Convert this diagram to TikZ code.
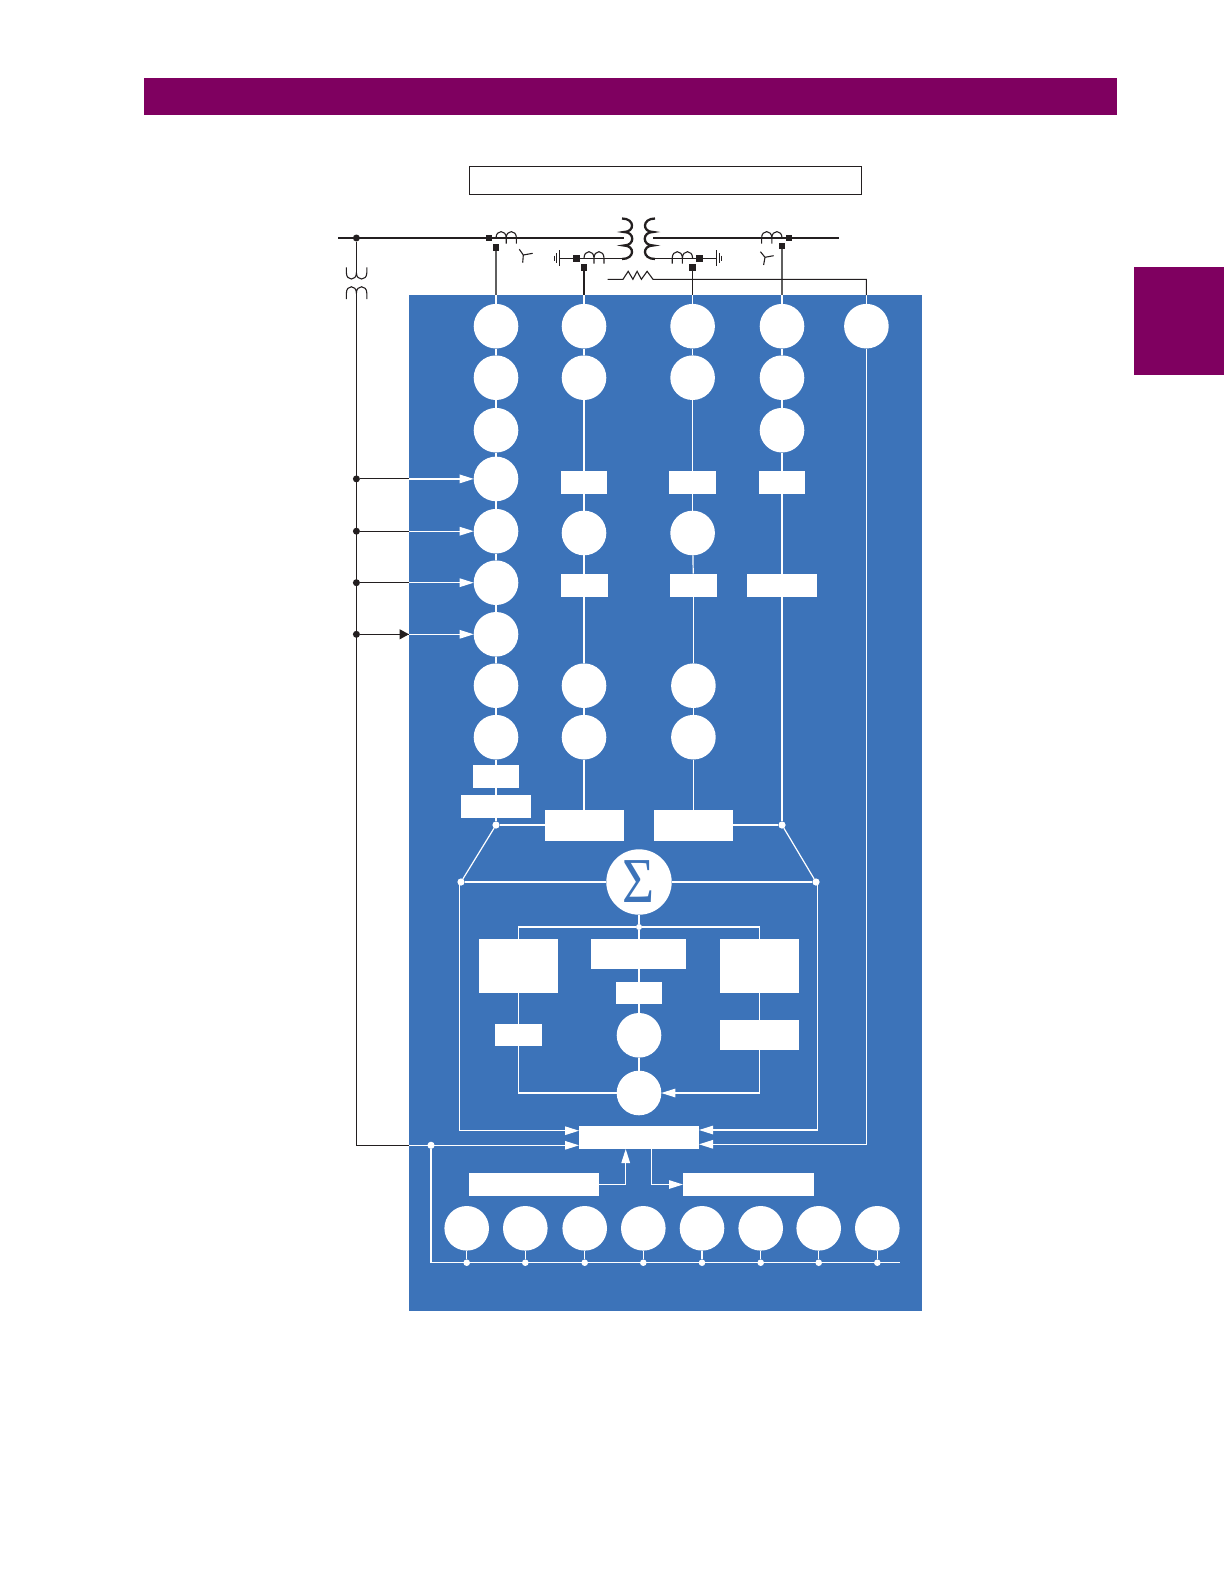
\documentclass[tikz,border=0pt]{standalone}
\usepackage{fontspec}
\newfontfamily\sigfont{Liberation Serif}
\usetikzlibrary{arrows.meta,shapes.geometric}
\definecolor{gepurple}{RGB}{127,0,96}
\definecolor{geblue}{RGB}{60,115,185}
\definecolor{inkblack}{RGB}{35,31,32}
\definecolor{inkgray}{RGB}{95,95,95}
\tikzset{
  wc/.style={circle,fill=white,draw=none,inner sep=0pt,outer sep=0pt,minimum size=44.6pt},
  wb/.style={rectangle,fill=white,draw=none,inner sep=0pt,outer sep=0pt},
  wd/.style={circle,fill=white,draw=none,inner sep=0pt,outer sep=0pt,minimum size=7.2pt},
  bd/.style={circle,fill=inkblack,draw=none,inner sep=0pt,outer sep=0pt,minimum size=7pt},
  sq/.style={rectangle,fill=inkblack,draw=none,inner sep=0pt,outer sep=0pt,minimum size=6.8pt},
  wl/.style={draw=white,line width=1.2pt},
  wa/.style={wl,-{Triangle[length=14pt,width=8.5pt,fill=white]}},
  kl/.style={draw=inkblack,line width=1.1pt},
  kt/.style={draw=inkblack,line width=1.7pt},
  kc/.style={draw=inkblack,line width=1.1pt},
  kg/.style={draw=inkgray,line width=1.4pt},
}
\begin{document}
\begin{tikzpicture}[x=1pt,y=-1pt]
\useasboundingbox (0,0) rectangle (1224,1584);
% page furniture
\fill[gepurple] (144,78) rectangle (1117,115);
\fill[gepurple] (1134,267) rectangle (1224,374.7);
\fill[geblue] (409,295) rectangle (922,1311);
\node[rectangle,draw=inkblack,line width=1pt,fill=white,inner sep=0pt,minimum width=391.5pt,minimum height=28pt] (title) at (665.7,180.3) {};
\draw[inkblack,line width=1.8pt] (title.north west) -- (title.south west);

% column 1
\foreach \n/\y in {a1/326.2,a2/377.7,a3/430.2,a4/478.9,a5/531.2,a6/582.7,a7/634.3,a8/685.7,a9/737.2}
  \node[wc] (\n) at (496,\y) {};
\node[wb,minimum width=46.4pt,minimum height=23.2pt] (b11) at (496,776.3) {};
\node[wb,minimum width=70pt,minimum height=22.7pt] (b12) at (496,806.3) {};
\node[wd] (j1) at (496,825) {};
% column 2
\foreach \n/\y in {c1/326.2,c2/377.7,c3/533,c4/685.7,c5/737.2}
  \node[wc] (\n) at (584,\y) {};
\node[wb,minimum width=46.5pt,minimum height=23.2pt] (b21) at (584,482.2) {};
\node[wb,minimum width=47pt,minimum height=23.2pt] (b22) at (584,585.2) {};
\node[wb,minimum width=79pt,minimum height=31pt] (b2) at (584.5,825.5) {};
% column 3
\foreach \n/\y in {d1/326.2,d2/377.7,d3/533}
  \node[wc] (\n) at (692.6,\y) {};
\foreach \n/\y in {d4/685.7,d5/737.2}
  \node[wc] (\n) at (693.4,\y) {};
\node[wb,minimum width=47pt,minimum height=23.2pt] (b31) at (692.6,482.2) {};
\node[wb,minimum width=47pt,minimum height=23.2pt] (b32) at (693.4,585.2) {};
\node[wb,minimum width=79pt,minimum height=31pt] (b3) at (693.2,825.5) {};
% column 4
\foreach \n/\y in {f1/326.2,f2/377.7,f3/430.2}
  \node[wc] (\n) at (782,\y) {};
\node[wb,minimum width=46.5pt,minimum height=23.2pt] (b41) at (782,482.2) {};
\node[wb,minimum width=70pt,minimum height=23.2pt] (b42) at (782,585.2) {};
\node[wd] (j5) at (782,825) {};
% column 5
\node[wc] (h1) at (866.4,326.2) {};

% summing section
\node[wd] (j3) at (461,882) {};
\node[wd] (j6) at (816,882) {};
\node[wc,minimum size=65.4pt] (sig) at (639,882) {\textcolor{geblue}{\scalebox{.86}[1]{\fontsize{64}{64}\sigfont Σ}}};
\node[wd,minimum size=6pt] (j2) at (639,927) {};
\node[wb,minimum width=79pt,minimum height=54pt] (lb) at (518.5,965.7) {};
\node[wb,minimum width=95pt,minimum height=30.3pt] (mb) at (638.3,954) {};
\node[wb,minimum width=79pt,minimum height=54pt] (rb) at (759.5,965.7) {};
\node[wb,minimum width=46pt,minimum height=21.7pt] (ms) at (639,992.8) {};
\node[wb,minimum width=47pt,minimum height=22pt] (ls) at (518.5,1035) {};
\node[wb,minimum width=79pt,minimum height=29.7pt] (rs) at (759.5,1034.8) {};
\node[wc] (mc1) at (639,1035.3) {};
\node[wc] (mc2) at (639,1093) {};
\node[wb,minimum width=120pt,minimum height=23pt] (mbx) at (639,1137.5) {};
\node[wb,minimum width=130pt,minimum height=23pt] (lx) at (534,1184.5) {};
\node[wb,minimum width=131pt,minimum height=23pt] (rx) at (748.5,1184.5) {};

% bottom row
\foreach \i/\x in {1/466.7,2/525.3,3/584.7,4/643.3,5/702,6/760.7,7/818.7,8/877.3}{
  \node[wc] (p\i) at (\x,1228.3) {};
  \node[wd,minimum size=6.6pt] (q\i) at (\x,1262.7) {};
  \draw[wl] (p\i) -- (q\i);
}
\node[wd] (j4) at (431,1145.3) {};
\coordinate (busend) at (900,1262.7);
\draw[wl] (j4) |- (busend);

% white connectors, columns
\foreach \p/\q in {a1/a2,a2/a3,a3/a4,a4/a5,a5/a6,a6/a7,a7/a8,a8/a9,a9/b11,b11/b12,b12/j1,
  c1/c2,c2/b21,b21/c3,c3/b22,b22/c4,c4/c5,
  d1/d2,d2/b31,b31/d3,d3/b32,b32/d4,d4/d5,
  f1/f2,f2/f3,f3/b41,b41/b42,b42/j5,
  j1/j3,j5/j6,j3/sig,j6/sig,sig/j2,ms/mc1,mc1/mc2}
  \draw[wl] (\p) -- (\q);
\draw[wl] (j2) -- (j2 |- mb.north);
\draw[wl] (mb.south -| ms) -- (ms);
\draw[wl] (c5) -- (c5 |- b2.north);
\draw[wl] (d5) -- (d5 |- b3.north);
\draw[wl] (j1) -- (b2.west |- j1);
\draw[wl] (j5) -- (b3.east |- j5);
\draw[wl] (j2) -| (lb);
\draw[wl] (j2) -| (rb);
\draw[wl] (lb) -- (ls);
\draw[wl] (rb) -- (rs);
\draw[wl] (ls) |- (mc2);
\draw[wa] (rs) |- (mc2);

% into the main box
\coordinate (ll1) at (459.3,882);
\coordinate (ll2) at (459.3,1130.7);
\draw[wa] (ll1) -- (ll2) -- (ll2 -| mbx.west);
\coordinate (rr1) at (817.6,882);
\coordinate (rr2) at (817.6,1130);
\draw[wa] (rr1) -- (rr2) -- (rr2 -| mbx.east);
\coordinate (hh2) at (866.4,1144.3);
\draw[wa] (h1) -- (hh2) -- (hh2 -| mbx.east);
\coordinate (edgeV) at (409,1145.3);
\draw[wa] (edgeV) -- (edgeV -| mbx.west);
\coordinate (upin) at (625.7,1149);
\draw[wa] (lx.east) -| (upin);
\coordinate (dnout) at (651.3,1149);
\draw[wa] (dnout) |- (rx.west);

% voltage inputs
\coordinate (vtb) at (356.4,293);
\coordinate (vbot) at (356.4,1145.3);
\draw[kl] (vtb) -- (vbot) -- (edgeV);
\foreach \i/\a in {1/a4,2/a5,3/a6,4/a7}{
  \node[bd] (v\i) at (\a -| vtb) {};
  \coordinate (e\i) at (\a -| edgeV);
  \draw[kl] (v\i) -- (e\i);
  \draw[wa] (e\i) -- (\a);
}
\draw[kl,line width=1.3pt,-{Triangle[length=9.5pt,width=10pt]}] (v4) -- (e4);

% line, transformer
\node[bd] (d0) at (356.4,238) {};
\coordinate (busL) at (338,238);
\coordinate (busLe) at (624,238);
\coordinate (busR) at (653,238);
\coordinate (busRe) at (838.6,238);
\draw[kt] (busL) -- (busLe);
\draw[kt] (busR) -- (busRe);
\coordinate (vtt) at (356.4,273);
\draw[kl] (d0) -- (vtt);
\draw[kc] (346.4,267.3) -- (346.4,273) .. controls (346.4,281) and (356.4,281) .. (356.4,273) .. controls (356.4,281) and (366.8,281) .. (366.8,273) -- (366.8,267.3);
\draw[kc] (346.4,299) -- (346.4,293) .. controls (346.4,284.7) and (356.4,284.7) .. (356.4,293) .. controls (356.4,284.7) and (366.8,284.7) .. (366.8,293) -- (366.8,299);
% transformer windings
\draw[inkblack,line width=2.3pt] (622,218.5) .. controls (635,218.5) and (635,232) .. (624,232) .. controls (635,232) and (635,245.5) .. (624,245.5) .. controls (635,245.5) and (635,259) .. (622,259);
\draw[inkblack,line width=2.3pt] (655,218.5) .. controls (642,218.5) and (642,232) .. (653,232) .. controls (642,232) and (642,245.5) .. (653,245.5) .. controls (642,245.5) and (642,259) .. (655,259);
% secondary leads and grounds
\coordinate (g1) at (559.5,258.3);
\coordinate (g1e) at (623,258.3);
\draw[kl] (g1) -- (g1e);
\coordinate (g2) at (716.8,258.3);
\coordinate (g2e) at (654,258.3);
\draw[kl] (g2) -- (g2e);
\draw[kc] (559.5,250) -- (559.5,265.7) (556.9,253.3) -- (556.9,262.7) (554.7,255.5) -- (554.7,260.5);
\draw[kc] (716.8,250) -- (716.8,265.7) (719.4,253.3) -- (719.4,262.7) (721.6,255.5) -- (721.6,260.5);
% current transformers
\draw[kc] (496,238) .. controls (496,229.5) and (506.2,229.5) .. (506.2,238) -- (506.2,243.5) (506.2,238) .. controls (506.2,229.5) and (516.4,229.5) .. (516.4,238) -- (516.4,243.5);
\draw[kc] (584,258.3) .. controls (584,249.5) and (594,249.5) .. (594,258.3) -- (594,263.5) (594,258.3) .. controls (594,249.5) and (604,249.5) .. (604,258.3) -- (604,263.5);
\draw[kc] (672.2,263.5) -- (672.2,258.3) .. controls (672.2,249.5) and (682.4,249.5) .. (682.4,258.3) -- (682.4,263.5) (682.4,258.3) .. controls (682.4,249.5) and (692.6,249.5) .. (692.6,258.3);
\draw[kc] (761.6,243.5) -- (761.6,238) .. controls (761.6,229.5) and (771.8,229.5) .. (771.8,238) -- (771.8,243.5) (771.8,238) .. controls (771.8,229.5) and (782,229.5) .. (782,238);
% wye symbols
\draw[kc] (523.3,255) -- (519.3,249.3) (523.3,255) -- (532.7,253.3) (523.3,255) -- (522.7,262.7);
\draw[kc] (765,257.3) -- (773.6,255.7) (765,257.3) -- (760.4,251.7) (765,257.3) -- (763.6,265);
% squares on the lines
\node[sq] (s1a) at (489,238) {};
\node[sq] (s1b) at (496,247.3) {};
\node[sq] (s2a) at (576.8,258.3) {};
\node[sq] (s2b) at (584,267.3) {};
\node[sq] (s3a) at (699.6,258.3) {};
\node[sq] (s3b) at (692.6,267.3) {};
\node[sq] (s4a) at (789,238) {};
\node[sq] (s4b) at (782,246) {};
% leads into the blue panel
\coordinate (t1) at (496,295);
\coordinate (t2) at (584,295);
\coordinate (t3) at (692.6,295);
\coordinate (t4) at (782,295);
\coordinate (t5) at (866.4,295);
\draw[kg] (s1b) -- (t1);
\draw[kl,line width=1.3pt] (s2b) -- (t2);
\draw[kl,line width=1.3pt] (s3b) -- (t3);
\draw[kg] (s4b) -- (t4);
\draw[wl] (t1) -- (a1);
\draw[wl] (t2) -- (c1);
\draw[wl] (t3) -- (d1);
\draw[wl] (t4) -- (f1);
\draw[wl] (t5) -- (h1);
% resistor
\coordinate (r0) at (607.5,279.3);
\coordinate (r1) at (653,279.3);
\coordinate (r2) at (866.4,279.3);
\draw[kc] (r0) -- (623,279.3) -- (628.2,271.3) -- (632.9,279.3) -- (637.1,271.3) -- (641.4,279.3) -- (647.1,271.3) -- (r1) -- (r2) -- (t5);
\end{tikzpicture}
\end{document}
